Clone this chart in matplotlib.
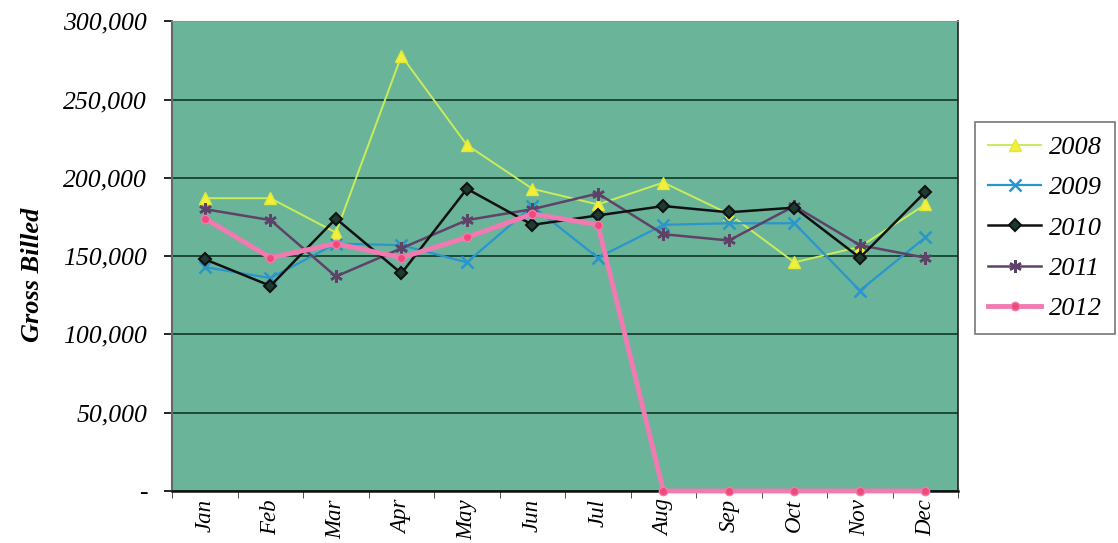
import matplotlib
matplotlib.use("Agg")
import matplotlib.pyplot as plt
from matplotlib.ticker import FuncFormatter, MultipleLocator, FixedLocator

months = ["Jan", "Feb", "Mar", "Apr", "May", "Jun",
          "Jul", "Aug", "Sep", "Oct", "Nov", "Dec"]

billed_2008 = [187000, 187000, 165000, 278000, 221000, 193000,
               183000, 197000, 177000, 146000, 156000, 183000]
billed_2009 = [143000, 136000, 158000, 157000, 146000, 182000,
               149000, 170000, 171000, 171000, 128000, 162000]
billed_2010 = [148000, 131000, 174000, 139000, 193000, 170000,
               176000, 182000, 178000, 181000, 149000, 191000]
billed_2011 = [180000, 173000, 137000, 155000, 173000, 180000,
               190000, 164000, 160000, 182000, 157000, 149000]
billed_2012 = [174000, 149000, 158000, 149000, 162000, 177000,
               170000, 0, 0, 0, 0, 0]

plt.rcParams["font.family"] = ["Liberation Serif", "DejaVu Serif"]

fig = plt.figure(figsize=(11.18, 5.43), dpi=100)
ax = fig.add_axes([0.154, 0.0958, 0.703, 0.865])
ax.set_facecolor("#6ab49a")

x = list(range(len(months)))

ax.plot(x, billed_2008, color="#c9ec5a", lw=1.4, marker="^", ms=8,
        mfc="#f2f03a", mec="#e2e83a", label="2008", zorder=3)
ax.plot(x, billed_2009, color="#2a96cc", lw=1.6, marker="x", ms=8,
        mew=1.8, label="2009", zorder=3)
ax.plot(x, billed_2010, color="#111111", lw=1.8, marker="D", ms=6,
        mfc="#1c3b33", mec="#111111", mew=1.5, label="2010", zorder=4)
ax.plot(x, billed_2011, color="#5e4268", lw=1.8, marker=(6, 2, 0), ms=9,
        mew=1.8, label="2011", zorder=3)
ax.plot(x, billed_2012, color="#f27ab0", lw=3.5, marker="o", ms=6,
        mfc="#f04a78", mec="#f27ab0", label="2012", zorder=5, clip_on=False)

ax.set_xlim(-0.5, 11.5)
ax.set_ylim(0, 300000)
ax.yaxis.set_major_locator(MultipleLocator(50000))
ax.yaxis.set_major_formatter(
    FuncFormatter(lambda v, p: "-" if v == 0 else f"{int(v):,}"))
ax.grid(axis="y", color="#1d4a38", lw=1.4, zorder=1)
ax.set_axisbelow(True)

ax.set_xticks(x)
ax.set_xticklabels(months, rotation=90, fontsize=16.5, style="italic")
ax.tick_params(axis="x", length=0, pad=6)
ax.xaxis.set_minor_locator(FixedLocator([i - 0.5 for i in range(13)]))
ax.tick_params(axis="x", which="minor", length=5, color="#333333")
ax.tick_params(axis="y", labelsize=18.5, length=6, width=1.2, pad=12)
for lab in ax.get_yticklabels():
    lab.set_style("italic")

ax.set_ylabel("Gross Billed", fontsize=19, style="italic",
              fontweight="bold")
ax.yaxis.set_label_coords(-0.163, 0.46)

ax.spines["top"].set_color("#7aa08f")
ax.spines["left"].set_color("#666666")
ax.spines["left"].set_linewidth(1.5)
ax.spines["right"].set_color("#222222")
ax.spines["right"].set_linewidth(1.2)
ax.spines["bottom"].set_color("#111111")
ax.spines["bottom"].set_linewidth(1.8)

leg = ax.legend(loc="center left", bbox_to_anchor=(1.0216, 0.56),
                borderaxespad=0, fontsize=19, frameon=True, fancybox=False,
                edgecolor="#555555", handlelength=2.0, labelspacing=0.64,
                borderpad=0.5, handletextpad=0.3)
leg.get_frame().set_linewidth(1.2)
for t in leg.get_texts():
    t.set_style("italic")

fig.savefig("out.png", dpi=100, facecolor="white")
